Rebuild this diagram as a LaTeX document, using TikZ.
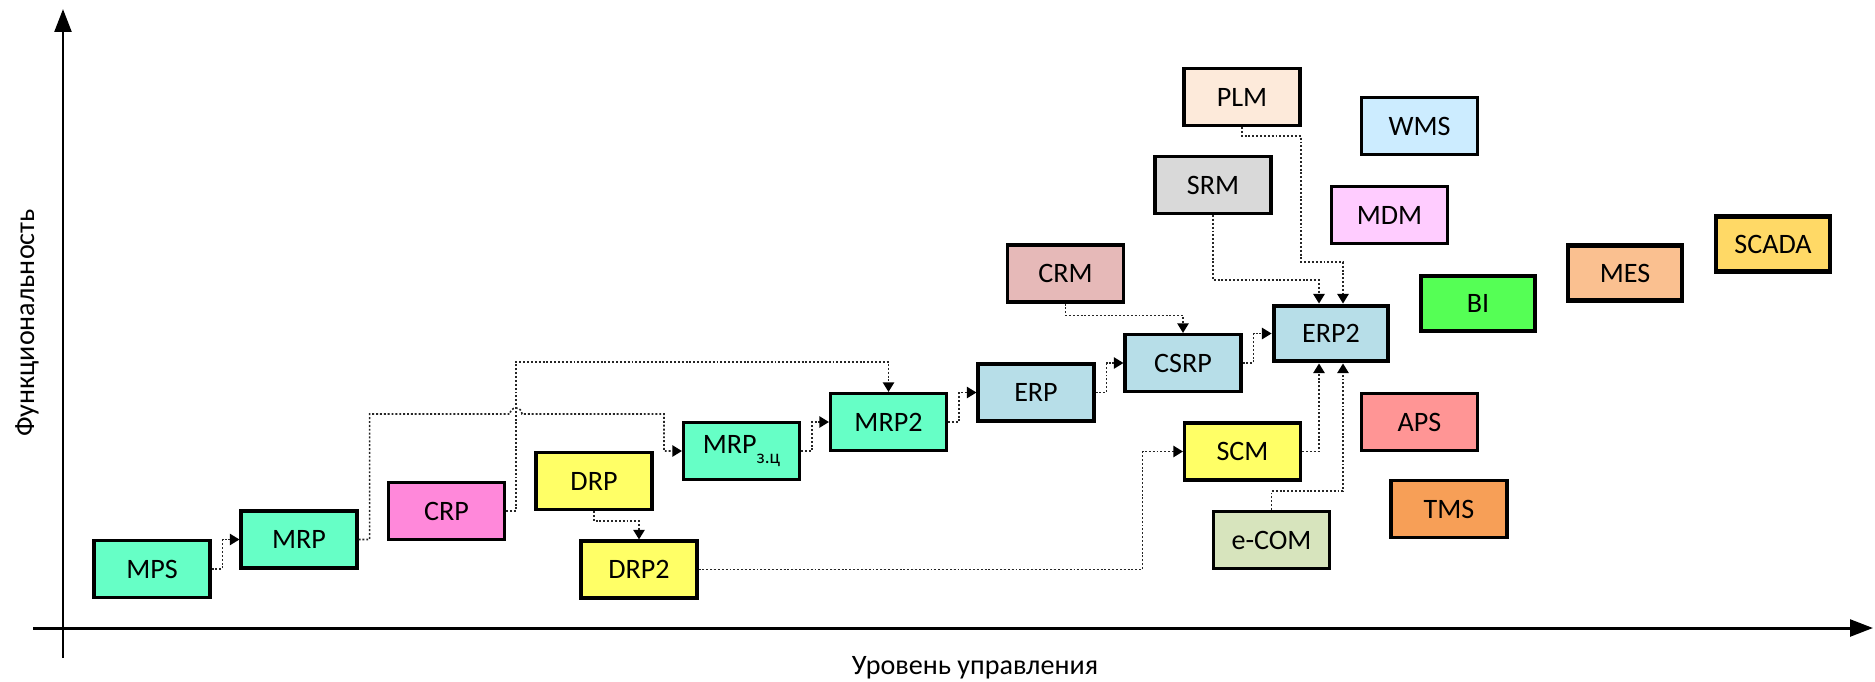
\documentclass[tikz,border=0pt]{standalone}
\usepackage{fontspec}
\setmainfont{Carlito}
\usepackage{xcolor}
\usetikzlibrary{arrows.meta}
\definecolor{cmrp}{HTML}{66FFC6}
\definecolor{ccrp}{HTML}{FF88DA}
\definecolor{cdrp}{HTML}{FFFF66}
\definecolor{cerp}{HTML}{B7DEE8}
\definecolor{ccrm}{HTML}{E6B9B8}
\definecolor{csrm}{HTML}{D9D9D9}
\definecolor{cplm}{HTML}{FDEADA}
\definecolor{cwms}{HTML}{CCECFF}
\definecolor{cmdm}{HTML}{FFCCFF}
\definecolor{cbi}{HTML}{55FF55}
\definecolor{cmes}{HTML}{FAC090}
\definecolor{cscada}{HTML}{FFD966}
\definecolor{caps}{HTML}{FF9595}
\definecolor{ctms}{HTML}{F79F57}
\definecolor{cecom}{HTML}{D7E4BD}
\tikzset{
  sys/.style={draw,line width=1.8pt,minimum width=2.32cm,minimum height=1.14cm,inner sep=0pt,font=\fontsize{16}{19}\selectfont},
  sysb/.style={sys,line width=2.8pt,minimum width=2.28cm,minimum height=1.1cm},
  lnk/.style={line width=0.9pt,black!85,dash pattern=on 1.1pt off 1.1pt,-{Triangle[length=5.5pt,width=6.5pt,color=black]}},
  ax/.style={line width=1.7pt,-{Triangle[length=13pt,width=9.5pt]}},
  axl/.style={font=\fontsize{16}{19}\selectfont}
}

\begin{document}
\begin{tikzpicture}[x=0.02cm,y=0.02cm]
\useasboundingbox (0,0) rectangle (1875,681);
\draw[ax] (63,23) -- (63,672);
\draw[ax] (33,53) -- (1873,53);
\node[axl,rotate=90] (lfun) at (27,358) {Функциональность};
\node[axl,anchor=base] (llev) at (975,7) {Уровень управления};

\node[sys,fill=cmrp] (mps) at (152,112) {MPS};
\node[sys,fill=cmrp] (mrp) at (299,141.5) {MRP};
\node[sys,fill=ccrp] (crp) at (446.5,170) {CRP};
\node[sys,fill=cdrp] (drp) at (594,200) {DRP};
\node[sys,fill=cdrp] (drp2) at (639,111.5) {DRP2};
\node[sys,fill=cmrp] (mrpz) at (741.5,230) {MRP\raisebox{-5.5pt}{\fontsize{11}{11}\selectfont з.ц}};
\node[sys,fill=cmrp] (mrp2) at (888.5,259) {MRP2};
\node[sys,fill=cerp] (erp) at (1036,288.5) {ERP};
\node[sys,fill=cerp] (csrp) at (1183,318) {CSRP};
\node[sysb,fill=cerp] (erp2) at (1331,347.5) {ERP2};
\node[sys,fill=ccrm] (crm) at (1065.5,407.5) {CRM};
\node[sys,fill=csrm] (srm) at (1213,496) {SRM};
\node[sys,fill=cplm] (plm) at (1242,584) {PLM};
\node[sys,fill=cwms] (wms) at (1419.5,555) {WMS};
\node[sys,fill=cmdm] (mdm) at (1389.5,466) {MDM};
\node[sysb,fill=cbi] (bi) at (1478,377.5) {BI};
\node[sysb,fill=cmes] (mes) at (1625,408) {MES};
\node[sysb,fill=cscada] (scada) at (1773,437) {SCADA};
\node[sys,fill=caps] (aps) at (1419.5,259) {APS};
\node[sys,fill=ctms] (tms) at (1449,172) {TMS};
\node[sys,fill=cdrp] (scm) at (1242.5,229.5) {SCM};
\node[sys,fill=cecom] (ecom) at (1271.5,141) {e-COM};

\draw[lnk] (mps.east) -- ++(11,0) |- (mrp.west);
\draw[lnk] (mrp.east) -- ++(11,0) |- (510,267) arc[start angle=180,end angle=0,radius=0.12cm] -- (664,267) |- (mrpz.west);
\draw[lnk] (crp.east) -- ++(10,0) -- ++(0,149) -| (mrp2.north);
\draw[lnk] (drp.south) -- ++(0,-10) -| (drp2.north);
\draw[lnk] (mrpz.east) -- ++(11,0) |- (mrp2.west);
\draw[lnk] (mrp2.east) -- ++(11,0) |- (erp.west);
\draw[lnk] (erp.east) -- ++(11,0) |- (csrp.west);
\draw[lnk] (csrp.east) -- ++(11,0) |- (erp2.west);
\draw[lnk] (crm.south) -- ++(0,-12) -| (csrp.north);
\draw[lnk] (srm.south) -- ++(0,-65) -| ([xshift=-0.24cm]erp2.north);
\draw[lnk] (plm.south) -- ++(0,-9) -| (1301,419) -| ([xshift=0.24cm]erp2.north);
\draw[lnk] (scm.east) -| ([xshift=-0.24cm]erp2.south);
\draw[lnk] (ecom.north) -- ++(0,19) -| ([xshift=0.24cm]erp2.south);
\draw[lnk] (drp2.east) -- ++(444,0) |- (scm.west);
\end{tikzpicture}
\end{document}
